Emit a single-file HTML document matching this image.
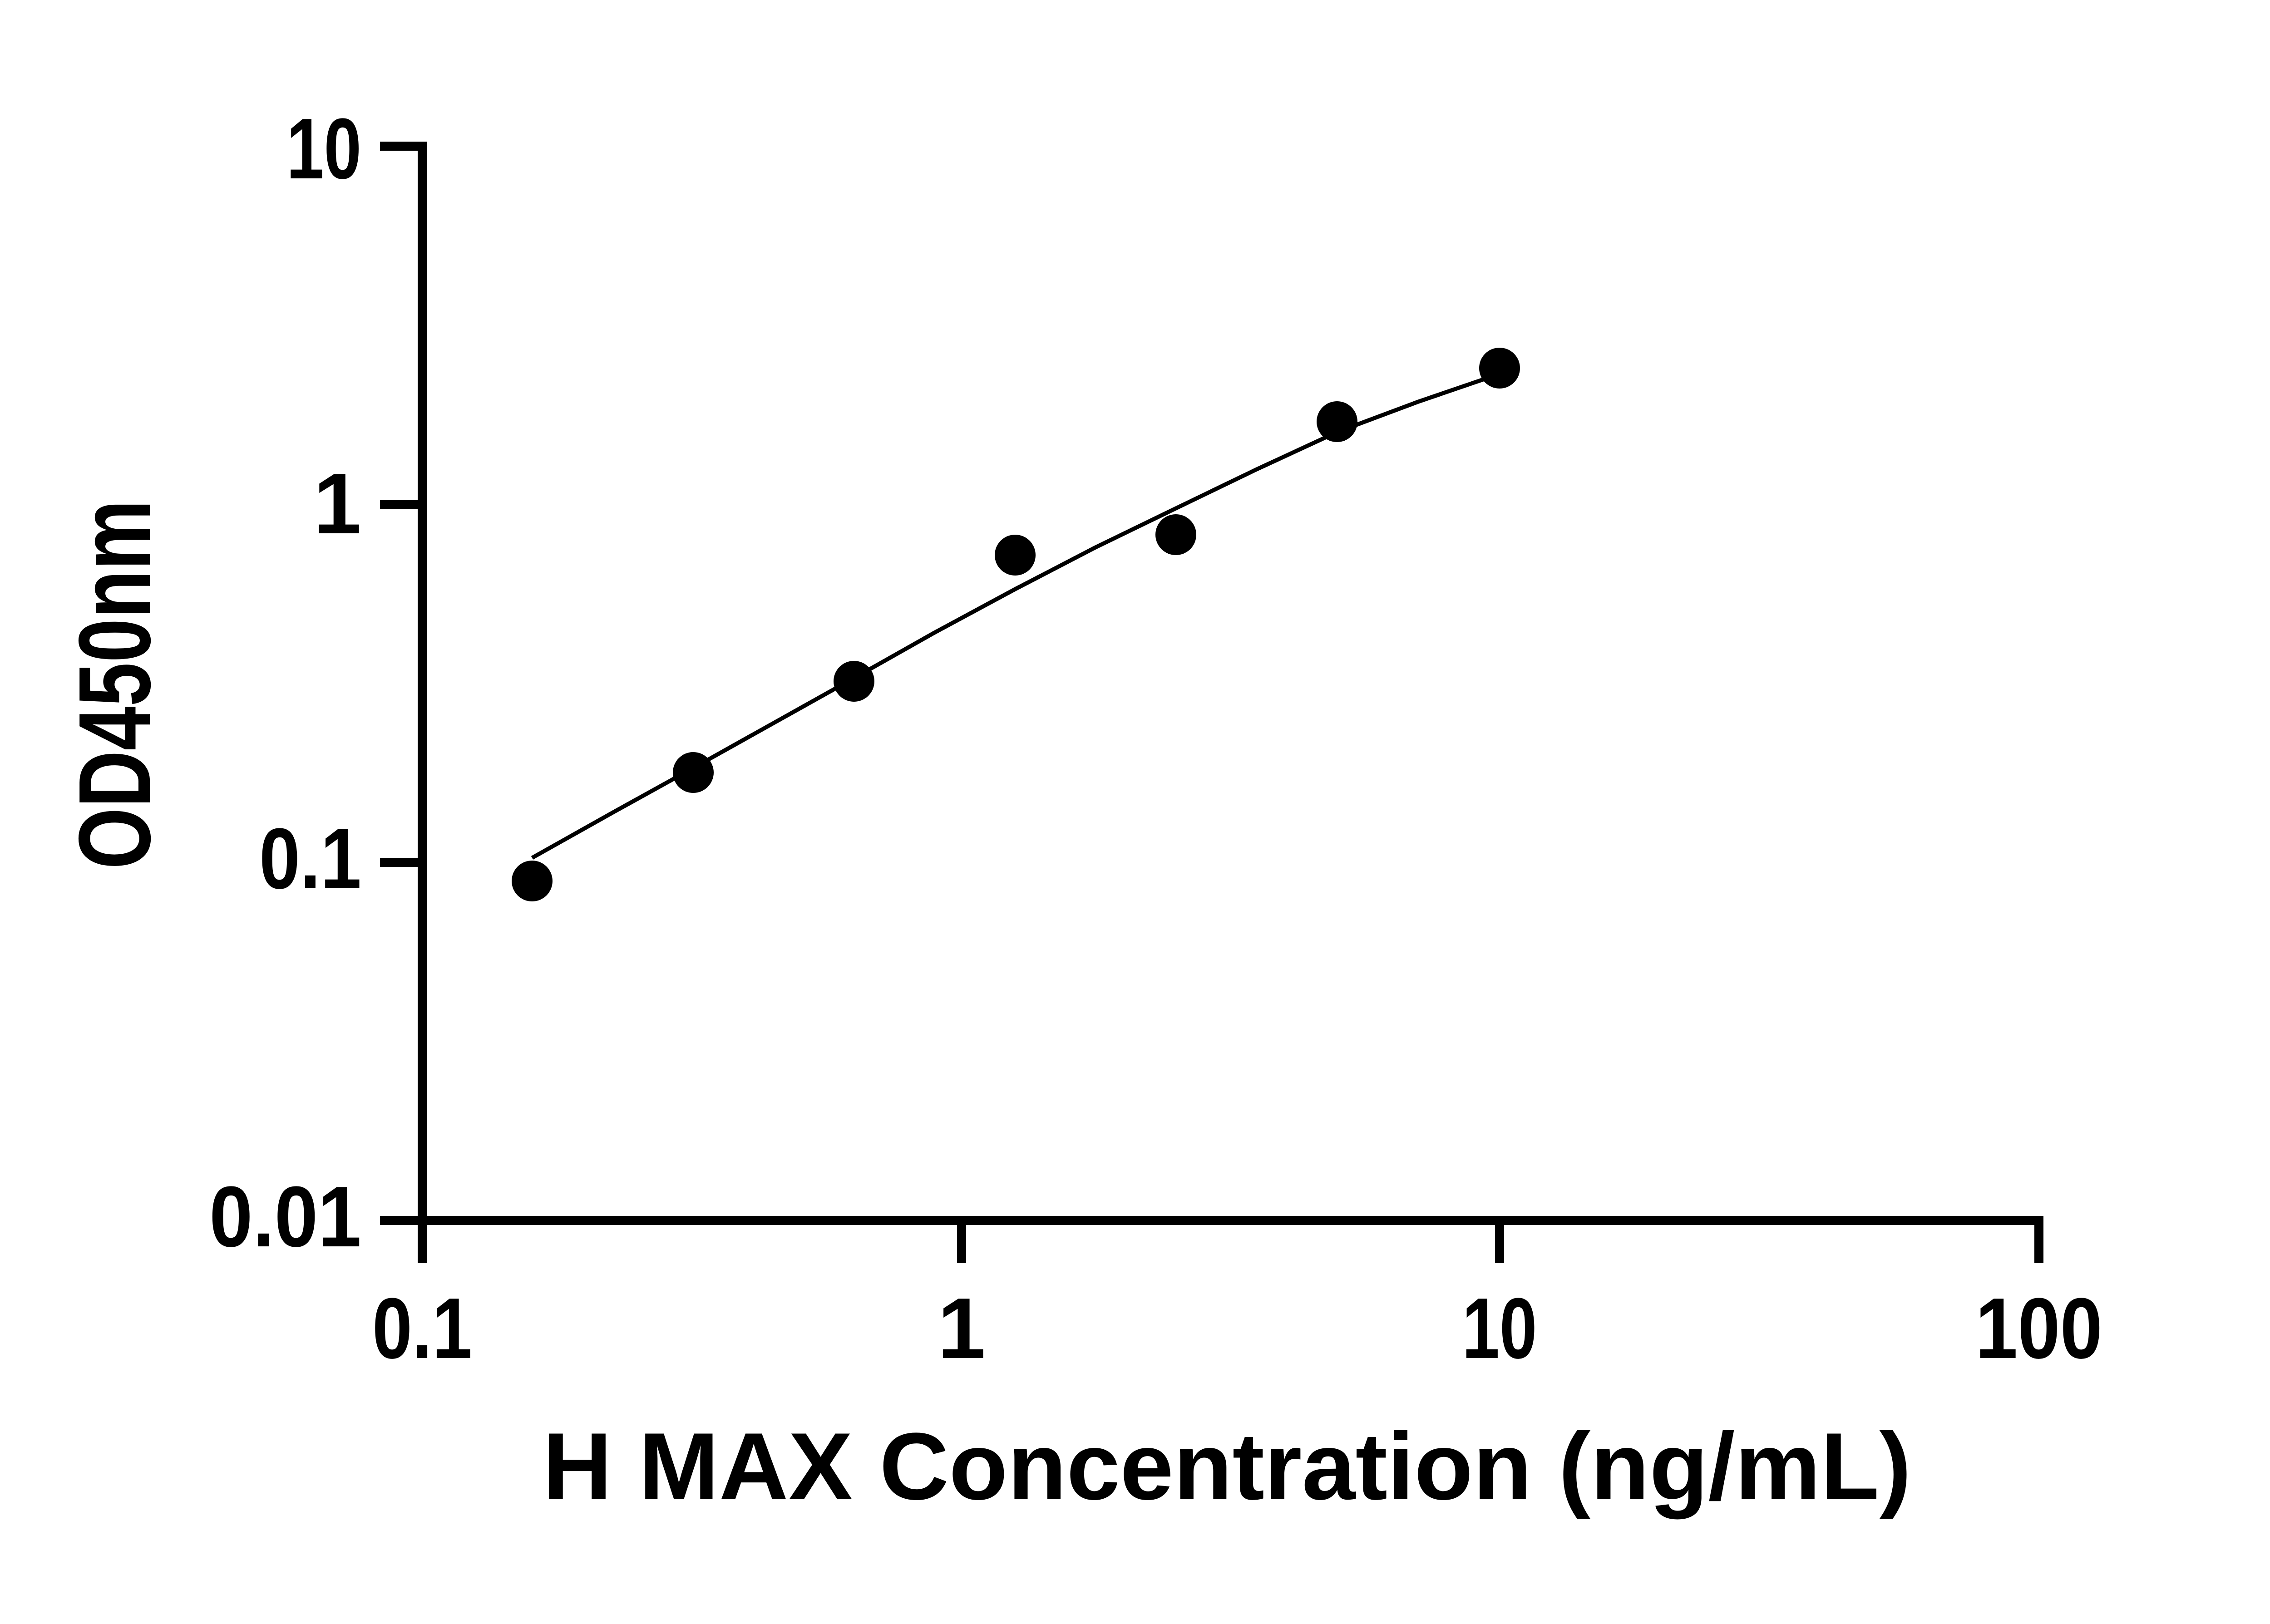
<!DOCTYPE html>
<html><head><style>html,body{margin:0;padding:0;background:#fff}svg{display:block}</style></head>
<body>
<svg width="5079" height="3578" viewBox="0 0 5079 3578" xmlns="http://www.w3.org/2000/svg">
<g stroke="#000" stroke-width="20" fill="none">
<line x1="930" y1="312" x2="930" y2="2699"/>
<line x1="837" y1="2689" x2="4501" y2="2689"/>
<line x1="837" y1="322" x2="940" y2="322"/>
<line x1="837" y1="1111" x2="940" y2="1111"/>
<line x1="837" y1="1900" x2="940" y2="1900"/>
<line x1="930" y1="2679" x2="930" y2="2783"/>
<line x1="2118" y1="2679" x2="2118" y2="2783"/>
<line x1="3303" y1="2679" x2="3303" y2="2783"/>
<line x1="4491" y1="2679" x2="4491" y2="2783"/>
</g>
<path d="M1172,1890 L1350,1790 L1527,1692 L1704,1593 L1881,1494 L2058,1394 L2236,1298 L2413,1206 L2590,1120 L2768,1034 L2945,952 L3124,885 L3270,835" stroke="#000" stroke-width="9" fill="none" stroke-linejoin="round"/>
<g fill="#000">
<circle cx="1172" cy="1941" r="45"/>
<circle cx="1527" cy="1702" r="45"/>
<circle cx="1881" cy="1501" r="45"/>
<circle cx="2236" cy="1223" r="45"/>
<circle cx="2590" cy="1178" r="45"/>
<circle cx="2945" cy="929" r="45"/>
<circle cx="3303" cy="811" r="45"/>
</g>
<g font-family="Liberation Sans, sans-serif" font-weight="bold" font-size="190" fill="#000">
<text x="796" y="393" text-anchor="end" textLength="165" lengthAdjust="spacingAndGlyphs">10</text>
<text x="796" y="1175" text-anchor="end">1</text>
<text x="796" y="1957" text-anchor="end" textLength="225" lengthAdjust="spacingAndGlyphs">0.1</text>
<text x="796" y="2746" text-anchor="end" textLength="335" lengthAdjust="spacingAndGlyphs">0.01</text>
<text x="930" y="2992" text-anchor="middle" textLength="220" lengthAdjust="spacingAndGlyphs">0.1</text>
<text x="2118" y="2992" text-anchor="middle">1</text>
<text x="3303" y="2992" text-anchor="middle" textLength="165" lengthAdjust="spacingAndGlyphs">10</text>
<text x="4491" y="2992" text-anchor="middle" textLength="280" lengthAdjust="spacingAndGlyphs">100</text>
<text x="1195" y="3303" font-size="210" textLength="3015" lengthAdjust="spacingAndGlyphs">H MAX Concentration (ng/mL)</text>
<text transform="translate(330,1915) rotate(-90)" font-size="225" textLength="814" lengthAdjust="spacingAndGlyphs">OD450nm</text>
</g>
</svg>
</body></html>
